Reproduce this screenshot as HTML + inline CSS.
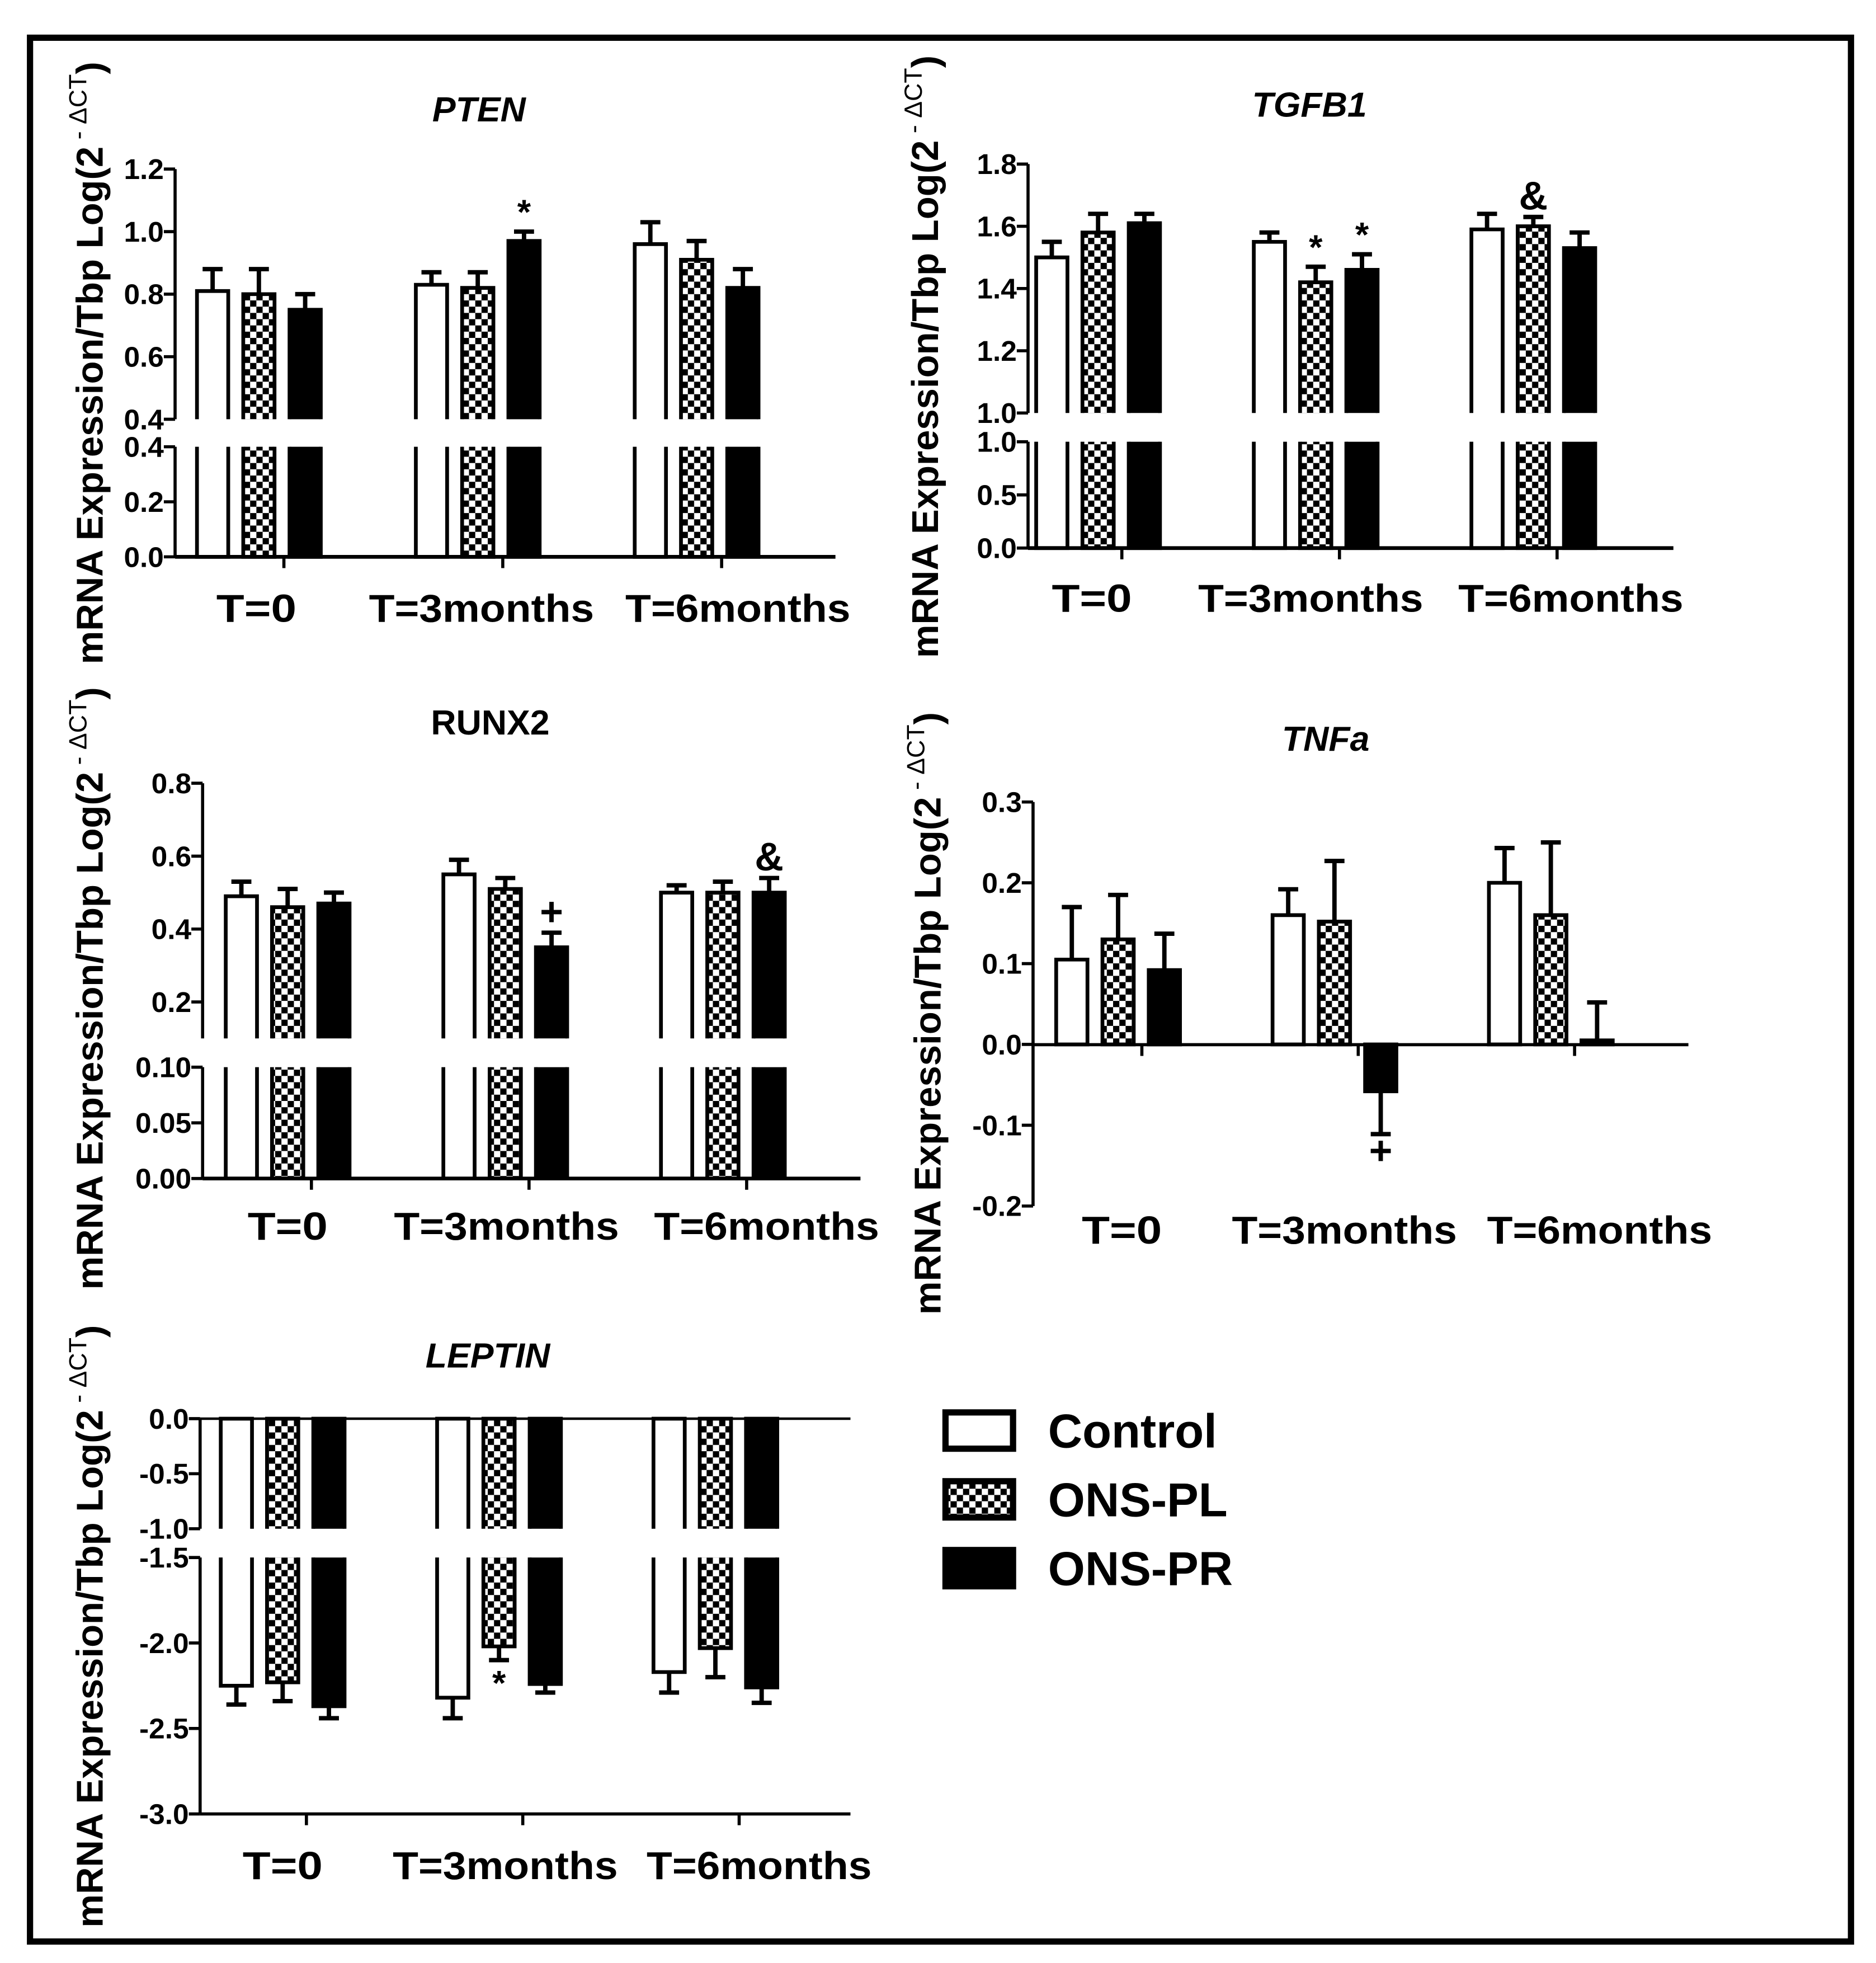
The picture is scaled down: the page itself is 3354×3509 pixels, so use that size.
<!DOCTYPE html>
<html><head><meta charset="utf-8">
<style>
html,body{margin:0;padding:0;background:#fff;}
svg{display:block;}
text{font-family:"Liberation Sans",Arial,sans-serif;font-weight:bold;fill:#000;}
</style></head>
<body>
<svg id="fig" width="3354" height="3509" viewBox="0 0 1500 1569" xmlns="http://www.w3.org/2000/svg">
<defs>
<pattern id="checker" width="10" height="10" patternUnits="userSpaceOnUse">
<rect width="10" height="10" fill="#fff"/>
<rect width="5" height="5" fill="#000"/>
<rect x="5" y="5" width="5" height="5" fill="#000"/>
</pattern>
</defs>
<rect x="24" y="30" width="1456" height="1522" fill="none" stroke="#000" stroke-width="5"/>
<g id="charts"></g>
<g>
<rect x="756" y="1129" width="54" height="29" fill="#fff" stroke="#000" stroke-width="5"/>
<text x="838" y="1157" font-size="38">Control</text>
<rect x="756" y="1184" width="54" height="29" fill="url(#checker)" stroke="#000" stroke-width="5"/>
<text x="838" y="1212" font-size="38">ONS-PL</text>
<rect x="756" y="1239" width="54" height="29" fill="#000" stroke="#000" stroke-width="5"/>
<text x="838" y="1267" font-size="38">ONS-PR</text>
</g>
</svg>
<script>
const groups = ["T=0","T=3months","T=6months"];
const seriesNames = ["Control","ONS-PL","ONS-PR"];

const ptenMean = [[0.81,0.80,0.75],[0.83,0.82,0.97],[0.96,0.91,0.82]];
const ptenErr  = [[0.07,0.08,0.05],[0.04,0.05,0.03],[0.07,0.06,0.06]];
const ptenMarks = [["","",""],["","","*"],["","",""]];
const ptenTicksUpper = ["1.2","1.0","0.8","0.6","0.4"];
const ptenTicksLower = ["0.4","0.2","0.0"];

const tgfMean = [[1.50,1.58,1.61],[1.55,1.42,1.46],[1.59,1.60,1.53]];
const tgfErr  = [[0.05,0.06,0.03],[0.03,0.05,0.05],[0.05,0.03,0.05]];
const tgfMarks = [["","",""],["","*","*"],["","&",""]];
const tgfTicksUpper = ["1.8","1.6","1.4","1.2","1.0"];
const tgfTicksLower = ["1.0","0.5","0.0"];

const runxMean = [[0.49,0.46,0.47],[0.55,0.51,0.35],[0.50,0.50,0.50]];
const runxErr  = [[0.04,0.05,0.03],[0.04,0.03,0.04],[0.02,0.03,0.04]];
const runxMarks = [["","",""],["","","+"],["","","&"]];
const runxTicksUpper = ["0.8","0.6","0.4","0.2"];
const runxTicksLower = ["0.10","0.05","0.00"];

const tnfMean = [[0.105,0.13,0.092],[0.16,0.152,-0.058],[0.20,0.16,0.005]];
const tnfErr  = [[0.065,0.055,0.045],[0.032,0.075,0.053],[0.043,0.09,0.047]];
const tnfMarks = [["","",""],["","","+"],["","",""]];
const tnfTicks = ["0.3","0.2","0.1","0.0","-0.1","-0.2"];

const lepMean = [[-2.25,-2.23,-2.37],[-2.32,-2.02,-2.24],[-2.17,-2.03,-2.26]];
const lepErr  = [[0.11,0.11,0.07],[0.12,0.08,0.05],[0.12,0.17,0.09]];
const lepMarks = [["","",""],["","*",""],["","",""]];
const lepTicksUpper = ["0.0","-0.5","-1.0"];
const lepTicksLower = ["-1.5","-2.0","-2.5","-3.0"];

const NS="http://www.w3.org/2000/svg";
const root=document.getElementById('charts');
function mk(tag,attrs,parent){const e=document.createElementNS(NS,tag);for(const k in attrs)e.setAttribute(k,attrs[k]);(parent||root).appendChild(e);return e;}

function segY(s,v){return s.y0+(v-s.d0)*(s.y1-s.y0)/(s.d1-s.d0);}
function makeScale(segs){
  return function(v){
    for(const s of segs){const lo=Math.min(s.d0,s.d1),hi=Math.max(s.d0,s.d1);
      if(v>=lo-1e-9&&v<=hi+1e-9)return segY(s,v);}
    return segY(segs[0],v);
  };
}

function drawChart(cfg){
  const g=mk('g',{});
  
  
  const y=makeScale(cfg.segs);
  const t=mk('text',{x:cfg.titleX,y:cfg.titleY,'font-size':28,'text-anchor':'middle','font-style':cfg.italic?'italic':'normal'},g);
  t.textContent=cfg.title;
  
  
  const yl=mk('text',{x:0,y:0,'font-size':30,'text-anchor':'middle',transform:`translate(${cfg.ylabX},${cfg.ylabY}) rotate(-90)`},g);
  
  
  yl.appendChild(document.createTextNode('mRNA Expression/Tbp Log(2'));
  const sp=mk('tspan',{dy:-13,'font-size':20,'font-weight':'normal'},yl);sp.textContent=' - \u0394CT';
  const sp2=mk('tspan',{dy:13},yl);sp2.textContent=')';
  const ax=cfg.axisX;
  groups.forEach((gn,gi)=>{
    const gc=cfg.groupX[0]+gi*cfg.groupStep;
    seriesNames.forEach((sn,si)=>{
      const cx=gc+(si-1)*37, w=25;
      const v=cfg.mean[gi][si], e=cfg.err[gi][si];
      const base=cfg.base;
      const lo=Math.min(base,v), hi=Math.max(base,v);
      const fill=si===0?'#fff':(si===1?'url(#checker)':'#000');
      cfg.segs.forEach(s=>{
        const sl=Math.min(s.d0,s.d1), sh=Math.max(s.d0,s.d1);
        const a=Math.max(lo,sl), b=Math.min(hi,sh);
        if(b<=a)return;
        const ya=segY(s,a), yb=segY(s,b);
        const top=Math.min(ya,yb), bot=Math.max(ya,yb);
        const r=mk('rect',{x:cx-w/2,y:top,width:w,height:bot-top,fill:fill},g);
        
        
        let d=`M${cx-w/2},${top}L${cx-w/2},${bot}M${cx+w/2},${top}L${cx+w/2},${bot}`;
        const endV=[lo,hi];
        [[a,ya],[b,yb]].forEach(([dv,yy])=>{ if(endV.some(q=>Math.abs(q-dv)<1e-9)) d+=`M${cx-w/2-1.5},${yy}L${cx+w/2+1.5},${yy}`; });
        const o=mk('path',{d:d,stroke:'#000','stroke-width':3,fill:'none'},g);
        
        
      });
      const dir=v>=base?1:-1;
      const ye=y(v+dir*e), yv=y(v);
      const eb=mk('path',{d:`M${cx},${yv}L${cx},${ye}M${cx-8},${ye}L${cx+8},${ye}`,stroke:'#000','stroke-width':3.5,fill:'none'},g);
      
      
      const m=cfg.marks[gi][si];
      if(m){
        const my=dir>0?ye-6:ye+(m==='*'?28:24);
        const mt=mk('text',{x:cx,y:my,'font-size':m==='*'?28:32,'text-anchor':'middle'},g);
        mt.textContent=m;
        
        
      }
    });
    const tx=gc+cfg.tickOff;
    const tk=mk('line',{x1:tx,x2:tx,y1:cfg.xAxisY,y2:cfg.xAxisY+9,stroke:'#000','stroke-width':2.5},g);
    
    
    const xl=mk('text',{x:cfg.labelX[gi],y:cfg.labelY,'font-size':31,'text-anchor':'middle','textLength':gi===0?64:180,'lengthAdjust':'spacingAndGlyphs'},g);
    xl.textContent=gn;
    
    
  });
  cfg.segs.forEach((s,i)=>{
    const l=mk('line',{x1:ax,x2:ax,y1:s.y0,y2:s.y1,stroke:'#000','stroke-width':2.5},g);
    
    
  });
  cfg.ticks.forEach((tl,i)=>{
    const v=parseFloat(tl), seg=cfg.segs[cfg.tickSeg[i]];
    const yy=segY(seg,v);
    const tkk=mk('line',{x1:ax-9,x2:ax,y1:yy,y2:yy,stroke:'#000','stroke-width':2.5},g);
    
    
    const tt=mk('text',{x:ax-9,y:yy+8,'font-size':23,'text-anchor':'end'},g);
    tt.textContent=tl;
    
    
  });
  const xa=mk('line',{x1:ax,x2:cfg.axisEnd,y1:cfg.xAxisY,y2:cfg.xAxisY,stroke:'#000','stroke-width':cfg.xw||3},g);
  
  
  if(cfg.topLine!==undefined){
    const tl2=mk('line',{x1:ax,x2:cfg.axisEnd,y1:cfg.topLine,y2:cfg.topLine,stroke:'#000','stroke-width':2},g);
    
    
  }
}

drawChart({name:'pten',title:'PTEN',italic:true,titleX:383,titleY:97,ylabX:82,ylabY:290,
  segs:[{d0:0.4,d1:1.2,y0:335,y1:135},{d0:0,d1:0.4,y0:445,y1:357}],
  ticks:ptenTicksUpper.concat(ptenTicksLower),tickSeg:[0,0,0,0,0,1,1,1],
  mean:ptenMean,err:ptenErr,marks:ptenMarks,base:0,axisX:140,axisEnd:668,xAxisY:445,
  groupX:[207],groupStep:175,tickOff:20,labelX:[205,385,590],labelY:497});

drawChart({name:'tgfb1',title:'TGFB1',italic:true,titleX:1047,titleY:93,ylabX:750,ylabY:285,
  segs:[{d0:1.0,d1:1.8,y0:330,y1:131},{d0:0,d1:1.0,y0:438,y1:353}],
  ticks:tgfTicksUpper.concat(tgfTicksLower),tickSeg:[0,0,0,0,0,1,1,1],
  mean:tgfMean,err:tgfErr,marks:tgfMarks,base:0,axisX:822,axisEnd:1338,xAxisY:438,
  groupX:[878],groupStep:174,tickOff:19,labelX:[873,1048,1256],labelY:489});

drawChart({name:'runx2',title:'RUNX2',italic:false,titleX:392,titleY:587,ylabX:82,ylabY:790,
  segs:[{d0:0.1,d1:0.8,y0:830,y1:626},{d0:0,d1:0.1,y0:942,y1:853}],
  ticks:runxTicksUpper.concat(runxTicksLower),tickSeg:[0,0,0,0,1,1,1],
  mean:runxMean,err:runxErr,marks:runxMarks,base:0,axisX:162,axisEnd:688,xAxisY:942,
  groupX:[230],groupStep:174,tickOff:19,labelX:[230,405,613],labelY:991});

drawChart({name:'tnfa',title:'TNFa',italic:true,titleX:1060,titleY:600,ylabX:752,ylabY:810,
  segs:[{d0:-0.2,d1:0.3,y0:964,y1:641}],
  ticks:tnfTicks,tickSeg:[0,0,0,0,0,0],
  mean:tnfMean,err:tnfErr,marks:tnfMarks,base:0,axisX:826,axisEnd:1350,xAxisY:835,xw:2.5,
  groupX:[894],groupStep:173,tickOff:19,labelX:[897,1075,1279],labelY:994});

drawChart({name:'leptin',title:'LEPTIN',italic:true,titleX:390,titleY:1093,ylabX:82,ylabY:1300,
  segs:[{d0:0,d1:-1.0,y0:1134,y1:1222},{d0:-1.5,d1:-3.0,y0:1245,y1:1450}],
  ticks:lepTicksUpper.concat(lepTicksLower),tickSeg:[0,0,0,1,1,1,1],
  mean:lepMean,err:lepErr,marks:lepMarks,base:0,axisX:160,axisEnd:680,xAxisY:1450,xw:2.5,topLine:1134,
  groupX:[226],groupStep:173,tickOff:19,labelX:[226,404,607],labelY:1502});
</script>
</body></html>
